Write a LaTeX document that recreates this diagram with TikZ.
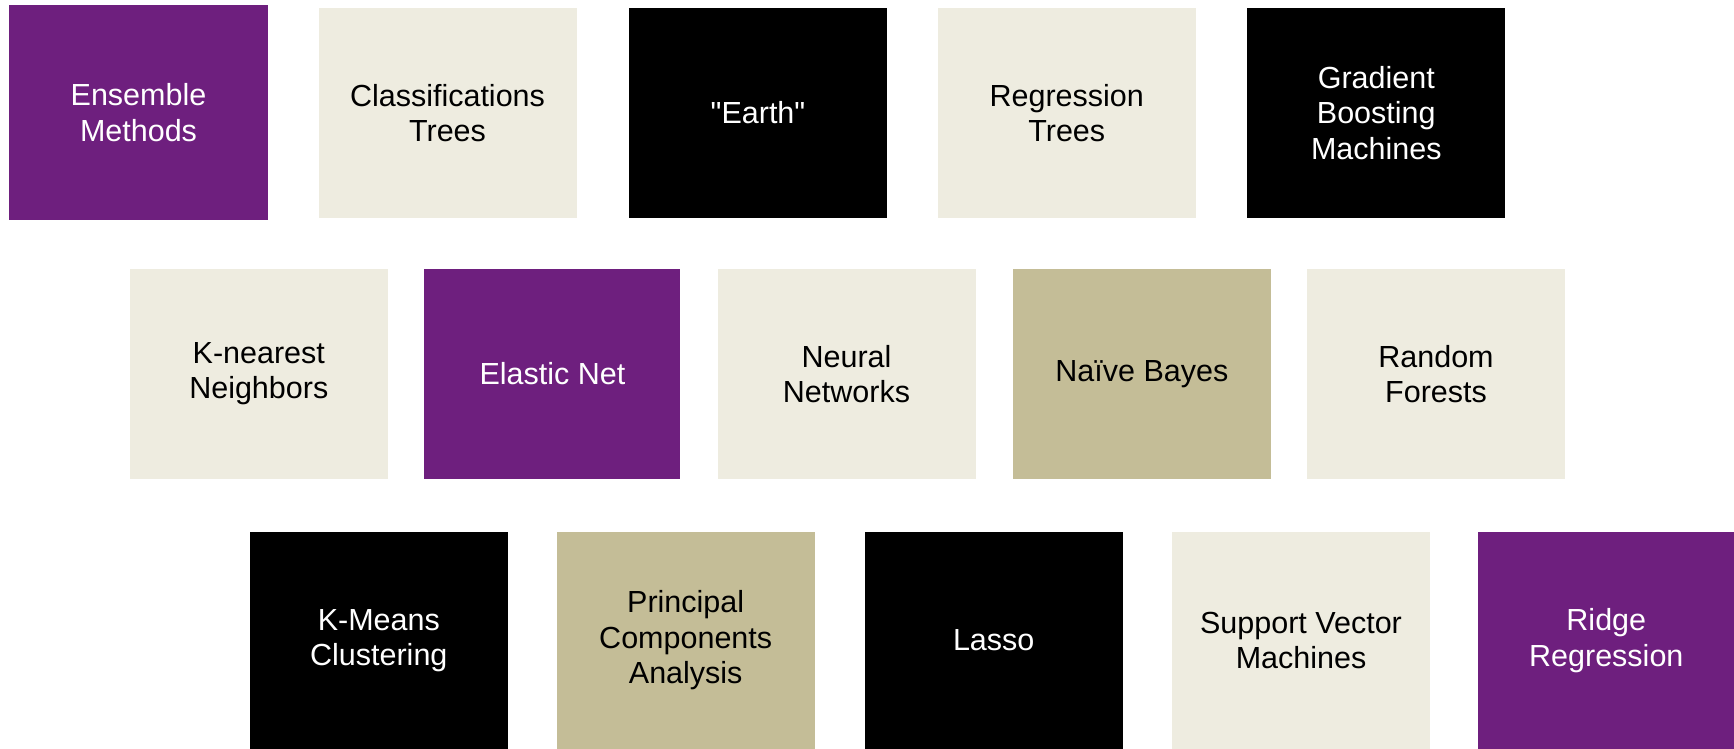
\documentclass[tikz,border=0pt]{standalone}
\usepackage{fontspec}
\setmainfont{Liberation Sans}
\definecolor{tilepurple}{HTML}{6E1F7E}
\definecolor{tilecream}{HTML}{EEECE0}
\definecolor{tiletan}{HTML}{C4BD97}
% straight double quote glyph, bypassing the TeX quote mapping
\newcommand{\straightdq}{\XeTeXglyph\XeTeXcharglyph"22\relax}
\begin{document}
\begin{tikzpicture}[x=1pt,y=-1pt,
  tile/.style={rectangle, inner sep=0pt, outer sep=0pt, draw=none,
    minimum width=258pt, minimum height=210pt, align=center,
    font=\fontsize{30.5}{35.4}\selectfont},
  purpletile/.style={tile, fill=tilepurple, text=white},
  creamtile/.style={tile, fill=tilecream, text=black},
  tantile/.style={tile, fill=tiletan, text=black},
  blacktile/.style={tile, fill=black, text=white}]
\useasboundingbox (0,0) rectangle (1734,749);
\fill[white] (0,0) rectangle (1734,749);

% top row
\node[purpletile, minimum width=259pt, minimum height=215pt] (ens) at (138.5,112.5) {Ensemble\\Methods};
\node[creamtile] (cls) at (447.5,113) {Classifications\\Trees};
\node[blacktile] (earth) at (758,113) {\straightdq Earth\straightdq};
\node[creamtile] (reg) at (1066.75,113) {Regression\\Trees};
\node[blacktile] (gbm) at (1376.25,113) {Gradient\\Boosting\\Machines};

% middle row
\node[creamtile] (knn) at (258.8,373.8) {K-nearest\\Neighbors};
\node[purpletile, minimum width=256pt] (enet) at (552.4,373.8) {Elastic Net};
\node[creamtile] (nn) at (846.5,373.8) {Neural\\Networks};
\node[tantile] (nb) at (1141.9,373.8) {Naïve Bayes};
\node[creamtile] (rf) at (1436,373.8) {Random\\Forests};

% bottom row
\node[blacktile, minimum height=217pt] (km) at (378.8,640.5) {K-Means\\Clustering};
\node[tantile, minimum height=217pt] (pca) at (685.7,640.5) {Principal\\Components\\Analysis};
\node[blacktile, minimum height=217pt] (lasso) at (993.7,640.5) {Lasso};
\node[creamtile, minimum height=217pt] (svm) at (1301,640.5) {Support Vector\\Machines};
\node[purpletile, minimum width=256pt, minimum height=217pt] (ridge) at (1606.3,640.5) {Ridge\\Regression};
\end{tikzpicture}
\end{document}
